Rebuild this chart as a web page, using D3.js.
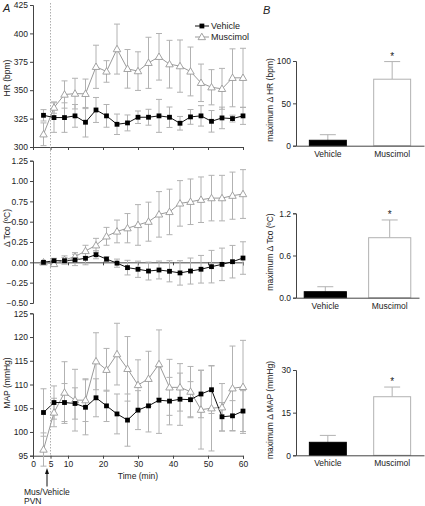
<!DOCTYPE html>
<html><head><meta charset="utf-8">
<script src="https://cdn.jsdelivr.net/npm/d3@7"></script>
<style>
body{margin:0;background:#fff;}
svg{display:block;font-family:"Liberation Sans",Arial,Helvetica,sans-serif;}
</style></head>
<body><svg id="c" width="425" height="506"></svg>
<script>
// ---------- data ----------
const times = [3,6,9,12,15,18,21,24,27,30,33,36,39,42,45,48,51,54,57,60];
const hrVehicle = [327.9,325.9,325.9,327.4,321.8,332.6,327.4,320,321.2,326.2,326.2,327.4,326.2,320.9,326.5,327.4,322.6,325.6,325,327.4];
const hrVehicleErr = [5,13,13,10,13,11,10,9,7,5.5,7,14.5,9,6,6.5,9,9.5,9.5,3,7.5];
const hrMuscimol = [311.2,334.7,346.2,347,346.8,370.6,366.5,386.2,368.8,366.8,374.1,379.4,372.9,371.2,366.5,356.5,352.6,351.2,360.9,360.9];
const hrMuscimolErr = [10,5,12,13.5,13,19,9.5,22,17,17,22.5,20.5,21,23,21.5,16.5,15.5,18,25.5,26];

const tcoVehicle = [0.0,0.02,0.02,0.03,0.05,0.094,0.04,-0.01,-0.065,-0.085,-0.107,-0.094,-0.11,-0.13,-0.107,-0.085,-0.053,-0.025,0.008,0.053];
const tcoVehicleErr = [0.01,0.03,0.04,0.07,0.08,0.05,0.03,0.05,0.09,0.1,0.11,0.11,0.13,0.15,0.16,0.17,0.2,0.2,0.2,0.2];
const tcoMuscimol = [0.0,-0.02,0.03,0.07,0.14,0.21,0.32,0.38,0.42,0.46,0.50,0.59,0.62,0.725,0.745,0.77,0.79,0.79,0.82,0.84];
const tcoMuscimolErr = [0.01,0.03,0.05,0.05,0.07,0.085,0.11,0.14,0.18,0.25,0.24,0.28,0.28,0.28,0.28,0.28,0.28,0.28,0.29,0.30];

const mapVehicle = [104.1,106.2,106.2,106,105.2,107.2,105.5,103.8,102.5,104.6,105.5,106.7,106.5,106.9,106.8,108,108.9,103.2,103.4,104.4];
const mapVehicleErr = [5,3.5,4,3.3,5.8,4,3.3,4.2,5.5,4.1,5.5,7,5,5.5,3.8,5,5,3,3.2,4.3];
const mapMuscimol = [96.3,104.1,108.3,106.7,106.7,114.9,113.1,116.4,113.3,109.9,111.2,114.3,109.4,109.4,108.5,104.7,105,105.2,109.2,109.5];
const mapMuscimolErr = [3.5,3,6.5,6.5,4.5,6,4.5,6.5,6.8,5.3,5.8,7.2,5.9,5,5.3,8.3,9,5,8.9,9.8];

const timeTicks = [0,5,10,20,30,40,50,60];
const hrTicks = [300,325,350,375,400,425];
const tcoTicks = [-0.5,-0.25,0,0.25,0.5,0.75,1.0,1.25];
const mapTicks = [95,100,105,110,115,120,125];

const groups = ["Vehicle","Muscimol"];
const maxHR = [6.4,78.5];      const maxHRErr = [6.6,20.8];
const maxTco = [0.085,0.853];  const maxTcoErr = [0.071,0.252];
const maxMAP = [4.57,20.6];    const maxMAPErr = [2.43,3.4];
const maxHRTicks = [0,50,100];
const maxTcoTicks = [0.0,0.6,1.2];
const maxMAPTicks = [0,15,30];

// ---------- drawing ----------
const svg = d3.select("#c");
const AX = "#444", TXT = "#222", GREY = "#9a9a9a", ERR = "#b2b2b2";
const FS = 8.5;
const FF = "Liberation Sans, Arial, sans-serif";

const x = d3.scaleLinear().domain([0,60]).range([33,243]);

function styleAxis(a){
  a.select(".domain").attr("stroke",AX);
  a.selectAll(".tick line").attr("stroke",AX);
  a.selectAll("text").attr("fill",TXT).attr("font-size",FS).attr("font-family",FF);
}

function leftPanel(opt){
  const y = d3.scaleLinear().domain(opt.domain).range(opt.range);
  const g = svg.append("g");
  const ya = g.append("g").attr("transform","translate(33,0)")
    .call(d3.axisLeft(y).tickValues(opt.ticks).tickSize(3).tickPadding(2).tickFormat(opt.fmt));
  styleAxis(ya);
  const xaY = opt.xAxisAt !== undefined ? y(opt.xAxisAt) : opt.range[0];
  const xa = g.append("g").attr("transform",`translate(0,${xaY})`)
    .call(d3.axisBottom(x).tickValues(timeTicks).tickSize(3).tickPadding(2)
      .tickFormat(opt.labels ? d3.format("d") : ""));
  styleAxis(xa);
  g.append("text").attr("transform",`translate(10,${opt.labelY}) rotate(-90)`)
    .attr("text-anchor","middle").attr("font-size",FS).attr("fill",TXT).text(opt.label);

  function series(vals, errs){
    const pts = times.map((t,i)=>({t, v:vals[i], e:errs[i]}));
    const eb = g.append("g").attr("stroke",ERR).attr("stroke-width",1).attr("fill","none");
    pts.forEach(p=>{
      const y1 = y(p.v+p.e), y2 = y(p.v-p.e), cx = x(p.t);
      eb.append("line").attr("x1",cx).attr("x2",cx).attr("y1",y1).attr("y2",y2);
      eb.append("line").attr("x1",cx-3).attr("x2",cx+3).attr("y1",y1).attr("y2",y1);
      eb.append("line").attr("x1",cx-3).attr("x2",cx+3).attr("y1",y2).attr("y2",y2);
    });
    return pts;
  }
  const pv = series(opt.veh, opt.vehErr);
  const pm = series(opt.mus, opt.musErr);
  const line = d3.line().x(d=>x(d.t)).y(d=>y(d.v));
  g.append("path").datum(pm).attr("d",line).attr("fill","none").attr("stroke",GREY).attr("stroke-width",1);
  g.append("path").datum(pv).attr("d",line).attr("fill","none").attr("stroke","#111").attr("stroke-width",1);
  g.selectAll(".tri").data(pm).enter().append("path")
    .attr("d",d3.symbol(d3.symbolTriangle,24)())
    .attr("transform",d=>`translate(${x(d.t)},${y(d.v)+0.5})`)
    .attr("fill","#fff").attr("stroke",GREY).attr("stroke-width",0.9);
  g.selectAll(".sq").data(pv).enter().append("rect")
    .attr("x",d=>x(d.t)-2.4).attr("y",d=>y(d.v)-2.4).attr("width",4.8).attr("height",4.8)
    .attr("fill","#000");
  return y;
}

leftPanel({domain:[300,425],range:[147,5],ticks:hrTicks,fmt:d3.format("d"),
  label:"HR (bpm)",labelY:78,veh:hrVehicle,vehErr:hrVehicleErr,mus:hrMuscimol,musErr:hrMuscimolErr});
leftPanel({domain:[-0.5,1.25],range:[303,160.7],ticks:tcoTicks,fmt:d=>d3.format(".2f")(d).replace("-","\u2212"),
  xAxisAt:0,label:"\u0394 Tco (\u00baC)",labelY:228,veh:tcoVehicle,vehErr:tcoVehicleErr,mus:tcoMuscimol,musErr:tcoMuscimolErr});
leftPanel({domain:[95,125],range:[455.7,313.3],ticks:mapTicks,fmt:d3.format("d"),labels:true,
  label:"MAP (mmHg)",labelY:383,veh:mapVehicle,vehErr:mapVehicleErr,mus:mapMuscimol,musErr:mapMuscimolErr});

// dashed injection line
svg.append("line").attr("x1",x(5)).attr("x2",x(5)).attr("y1",3).attr("y2",455)
  .attr("stroke","#999").attr("stroke-width",0.8).attr("stroke-dasharray","1.5,1.5");

// time label + arrow
svg.append("text").attr("x",x(30)).attr("y",479).attr("text-anchor","middle")
  .attr("font-size",FS).attr("fill",TXT).text("Time (min)");
svg.append("line").attr("x1",47).attr("x2",47).attr("y1",472).attr("y2",486.5).attr("stroke","#111").attr("stroke-width",1);
svg.append("path").attr("d","M47,468 L45,474 L49,474 Z").attr("fill","#111");
svg.append("text").attr("x",24).attr("y",495).attr("font-size",FS).attr("fill",TXT).text("Mus/Vehicle");
svg.append("text").attr("x",24).attr("y",504).attr("font-size",FS).attr("fill",TXT).text("PVN");

// legend
const lg = svg.append("g");
lg.append("line").attr("x1",195).attr("x2",209).attr("y1",26).attr("y2",26).attr("stroke","#111");
lg.append("rect").attr("x",199.5).attr("y",23.6).attr("width",4.8).attr("height",4.8).attr("fill","#000");
lg.append("text").attr("x",211).attr("y",29).attr("font-size",FS+0.5).attr("fill",TXT).text(groups[0]);
lg.append("line").attr("x1",195).attr("x2",209).attr("y1",37).attr("y2",37).attr("stroke",GREY);
lg.append("path").attr("d",d3.symbol(d3.symbolTriangle,24)()).attr("transform","translate(201.8,37.5)")
  .attr("fill","#fff").attr("stroke",GREY).attr("stroke-width",0.9);
lg.append("text").attr("x",211).attr("y",40).attr("font-size",FS+0.5).attr("fill",TXT).text(groups[1]);

// panel letters
svg.append("text").attr("x",3).attr("y",12).attr("font-size",11).attr("font-style","italic").attr("fill",TXT).text("A");
svg.append("text").attr("x",263).attr("y",14).attr("font-size",11).attr("font-style","italic").attr("fill",TXT).text("B");

// ---------- right bar panels ----------
function barPanel(opt){
  const y = d3.scaleLinear().domain(opt.domain).range(opt.range);
  const xb = d3.scaleBand().domain(groups).range([296,opt.xEnd]).paddingInner(opt.pi).paddingOuter(opt.po);
  const g = svg.append("g");
  groups.forEach((gname,i)=>{
    const v = opt.vals[i], e = opt.errs[i];
    const cx = xb(gname)+xb.bandwidth()/2;
    g.append("line").attr("x1",cx).attr("x2",cx).attr("y1",y(v)).attr("y2",y(v+e)).attr("stroke",ERR);
    g.append("line").attr("x1",cx-8).attr("x2",cx+8).attr("y1",y(v+e)).attr("y2",y(v+e)).attr("stroke",ERR);
    g.append("rect").attr("x",xb(gname)+0.5).attr("y",y(v)).attr("width",xb.bandwidth()-1).attr("height",y(0)-y(v))
      .attr("fill",i===0?"#000":"#fff").attr("stroke",i===0?"#000":ERR).attr("stroke-width",1);
    if(i===1) g.append("text").attr("x",cx).attr("y",y(v+e)-2).attr("text-anchor","middle")
      .attr("font-size",10).attr("fill",TXT).text("*");
  });
  const ya = g.append("g").attr("transform","translate(296,0)")
    .call(d3.axisLeft(y).tickValues(opt.ticks).tickSize(3).tickPadding(2).tickFormat(opt.fmt));
  styleAxis(ya);
  const xa = g.append("g").attr("transform",`translate(0,${y(0)})`)
    .call(d3.axisBottom(xb).tickSize(0).tickPadding(5));
  styleAxis(xa);
  g.append("text").attr("transform",`translate(273,${opt.labelY}) rotate(-90)`)
    .attr("text-anchor","middle").attr("font-size",FS).attr("fill",TXT).text(opt.label);
}

barPanel({domain:[0,100],range:[145.7,61],ticks:maxHRTicks,fmt:d3.format("d"),xEnd:424,pi:0.41,po:0.2,
  vals:maxHR,errs:maxHRErr,label:"maximum \u0394 HR (bpm)",labelY:100});
barPanel({domain:[0,1.2],range:[297.7,213.3],ticks:maxTcoTicks,fmt:d3.format(".1f"),xEnd:419,pi:0.33,po:0.12,
  vals:maxTco,errs:maxTcoErr,label:"maximum \u0394 Tco (\u00baC)",labelY:252});
barPanel({domain:[0,30],range:[455.3,370],ticks:maxMAPTicks,fmt:d3.format("d"),xEnd:424,pi:0.41,po:0.2,
  vals:maxMAP,errs:maxMAPErr,label:"maximum \u0394 MAP (mmHg)",labelY:410});
</script></body></html>
